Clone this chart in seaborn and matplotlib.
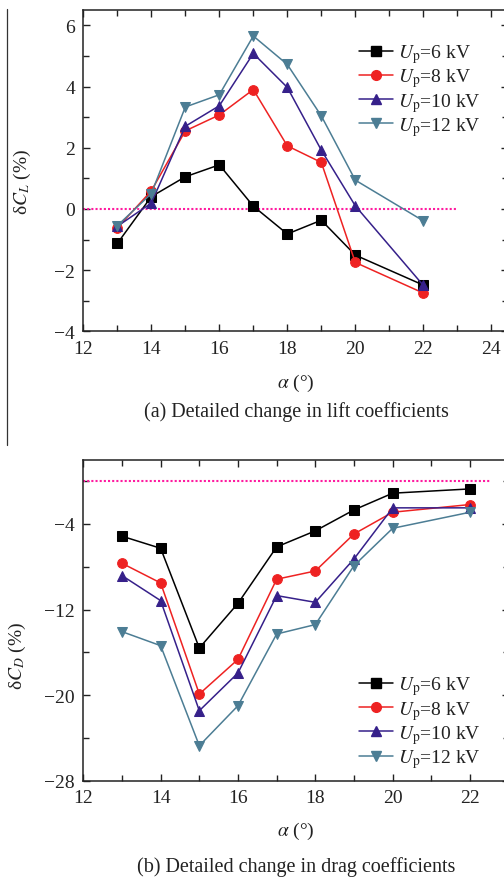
import matplotlib
matplotlib.use("Agg")
import matplotlib.pyplot as plt
from matplotlib.lines import Line2D
from matplotlib.ticker import MultipleLocator
import seaborn as sns
import numpy as np

# ---------------- data ----------------
alpha = [13, 14, 15, 16, 17, 18, 19, 20, 22]
labels = ["$U_\\mathrm{p}$=6 kV", "$U_\\mathrm{p}$=8 kV", "$U_\\mathrm{p}$=10 kV", "$U_\\mathrm{p}$=12 kV"]

dCL_6 = [-1.13, 0.40, 1.05, 1.44, 0.09, -0.82, -0.37, -1.51, -2.49]
dCL_8 = [-0.62, 0.59, 2.55, 3.07, 3.90, 2.06, 1.52, -1.75, -2.75]
dCL_10 = [-0.57, 0.19, 2.70, 3.37, 5.08, 3.97, 1.92, 0.10, -2.50]
dCL_12 = [-0.55, 0.50, 3.33, 3.73, 5.65, 4.72, 3.04, 0.94, -0.39]

dCD_6 = [-5.15, -6.28, -15.60, -11.42, -6.15, -4.65, -2.69, -1.13, -0.73]
dCD_8 = [-7.68, -9.52, -19.90, -16.66, -9.17, -8.40, -4.94, -2.91, -2.19]
dCD_10 = [-8.83, -11.17, -21.46, -17.93, -10.70, -11.33, -7.27, -2.50, -2.50]
dCD_12 = [-14.07, -15.38, -24.73, -20.99, -14.29, -13.41, -7.90, -4.41, -2.91]

# ---------------- style ----------------
sns.set_style("white")
plt.rcParams["font.family"] = ["Liberation Serif", "DejaVu Serif"]
plt.rcParams["mathtext.fontset"] = "stix"
plt.rcParams["axes.unicode_minus"] = True

colors = ["#000000", "#ee2222", "#36208a", "#4c7d94"]
markers = ["s", "o", "^", "v"]

W, H = 504, 879
fig = plt.figure(figsize=(W / 100, H / 100), dpi=100)
fig.patch.set_facecolor("white")

def px_axes(x0, x1, ytop, ybot):
    return fig.add_axes([x0 / W, 1 - ybot / H, (x1 - x0) / W, (ybot - ytop) / H])

ax1 = px_axes(83.3, 508.3, 11, 332.3)
ax2 = px_axes(83.3, 508.7, 460.7, 781.7)

def draw(ax, series):
    for vals, c, m, lab in zip(series, colors, markers, labels):
        sns.lineplot(x=alpha, y=vals, ax=ax, color=c, marker=m, markersize=7,
                     markeredgecolor=c, linewidth=1.1, label=lab, legend=False)

draw(ax1, [dCL_6, dCL_8, dCL_10, dCL_12])
draw(ax2, [dCD_6, dCD_8, dCD_10, dCD_12])

ax1.plot([12, 23], [0, 0], color="#ff1aa0", linestyle=(0, (1, 1)), linewidth=1.5, zorder=1)
ax2.plot([12, 22.55], [0, 0], color="#ff1aa0", linestyle=(0, (1, 1)), linewidth=1.5, zorder=1)

ax1.set_xlim(12, 24.5)
ax1.set_ylim(-4, 6.5)
ax1.xaxis.set_major_locator(MultipleLocator(2))
ax1.xaxis.set_minor_locator(MultipleLocator(1))
ax1.yaxis.set_major_locator(MultipleLocator(2))
ax1.yaxis.set_minor_locator(MultipleLocator(1))

ax2.set_xlim(12, 23)
ax2.set_ylim(-28, 2)
ax2.xaxis.set_major_locator(MultipleLocator(2))
ax2.xaxis.set_minor_locator(MultipleLocator(1))
ax2.set_yticks([-28, -20, -12, -4])
ax2.yaxis.set_minor_locator(MultipleLocator(4))

for ax in (ax1, ax2):
    for s in ax.spines.values():
        s.set_visible(True)
        s.set_color("#222222")
        s.set_linewidth(1.1)
    ax.tick_params(which="both", direction="in", top=True, right=True,
                   bottom=True, left=True, colors="#222222", labelsize=14,
                   labelcolor="#222222")
    ax.tick_params(which="major", length=5, width=1.0, pad=6)
    ax.tick_params(which="minor", length=4, width=1.0)
    ax.grid(False)
    ax.set_xlabel("$\\alpha$ (°)", fontsize=14, color="#222222")
    ax.set_facecolor("white")

ax1.set_ylabel("δ$C_L$ (%)", fontsize=14, color="#222222")
ax2.set_ylabel("δ$C_D$ (%)", fontsize=14, color="#222222")
ax1.yaxis.set_label_coords(-0.118, 0.469)
ax2.yaxis.set_label_coords(-0.130, 0.392)
ax1.xaxis.set_label_coords(0.5, -0.125)
ax2.xaxis.set_label_coords(0.5, -0.123)

handles = [Line2D([], [], color=c, marker=m, markersize=7, markeredgecolor=c, linewidth=1.1)
           for c, m in zip(colors, markers)]
for ax, anchor in ((ax1, (0.649, 0.900)), (ax2, (0.649, 0.331))):
    ax.legend(handles, labels, loc="upper left", bbox_to_anchor=anchor, frameon=False,
              fontsize=14, handlelength=1.75, handletextpad=0.25, labelspacing=0.07,
              borderpad=0, borderaxespad=0, labelcolor="#222222")

fig.text(296 / W, 1 - 412 / H, "(a) Detailed change in lift coefficients",
         ha="center", va="center", fontsize=14.5, color="#222222")
fig.text(296 / W, 1 - 866.7 / H, "(b) Detailed change in drag coefficients",
         ha="center", va="center", fontsize=14.5, color="#222222")

# stray page rule on the left
fig.add_artist(Line2D([7 / W, 7 / W], [1 - 10 / H, 1 - 446 / H], color="#333333", linewidth=0.9))

fig.savefig("out.png", dpi=100, facecolor="white")
